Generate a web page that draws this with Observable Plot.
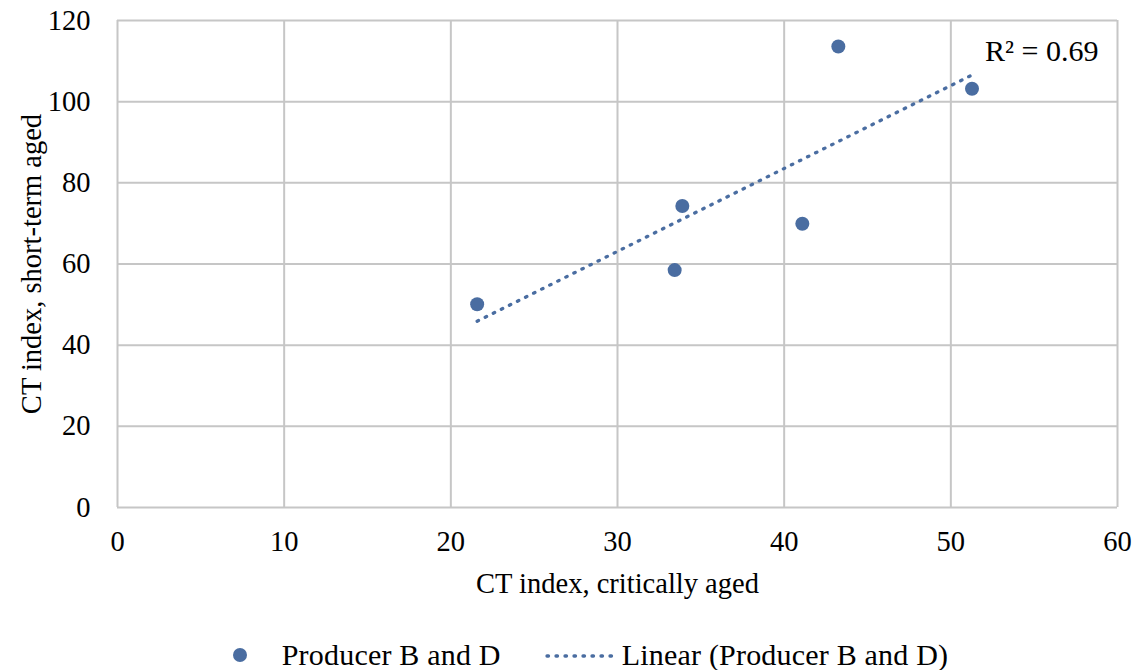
<!DOCTYPE html>
<html>
<head>
<meta charset="utf-8">
<script src="https://cdn.jsdelivr.net/npm/d3@7"></script>
<script src="https://cdn.jsdelivr.net/npm/@observablehq/plot@0.6"></script>
<style>
  html, body { margin: 0; padding: 0; background: #fff; }
  #chart { width: 1140px; }
  .legend { display: flex; justify-content: center; align-items: center; height: 60px;
            padding-top: 15px; padding-left: 41px; box-sizing: content-box; width: 1099px;
            font-family: "Liberation Serif", "Times New Roman", serif; font-size: 30px; color: #000;
            letter-spacing: 0.2px; }
  .legend .item { display: flex; align-items: center; }
  .legend svg { display: block; }
</style>
</head>
<body>
<div id="chart"></div>
<script>
// Data
const critAged  = [21.58, 33.43, 33.89, 41.09, 43.25, 51.27];   // CT index, critically aged
const shortAged = [50.1, 58.5, 74.3, 69.9, 113.6, 103.2];      // CT index, short-term aged
const xTicks = [0, 10, 20, 30, 40, 50, 60];
const yTicks = [0, 20, 40, 60, 80, 100, 120];
const seriesName = "Producer B and D";
const trendName = "Linear (Producer B and D)";
const xTitle = "CT index, critically aged";
const yTitle = "CT index, short-term aged";

const data = critAged.map((x, i) => ({x, y: shortAged[i]}));

// least squares fit (for R² label and its anchor)
const mx = d3.mean(critAged), my = d3.mean(shortAged);
let sxy = 0, sxx = 0, syy = 0;
data.forEach(d => { sxy += (d.x - mx) * (d.y - my); sxx += (d.x - mx) ** 2; syy += (d.y - my) ** 2; });
const slope = sxy / sxx, intercept = my - slope * mx;
const r2 = (sxy * sxy) / (sxx * syy);
const xEnd = d3.max(critAged);
const labelData = [{x: xEnd, y: intercept + slope * xEnd, t: `R² = ${r2.toFixed(2)}`}];

const blue = "#4a6da1";
const grid = "#c6c6c6";
const font = "Liberation Serif, Times New Roman, serif";

const plot = Plot.plot({
  width: 1140,
  height: 610,
  marginLeft: 117,
  marginRight: 23,
  marginTop: 20,
  marginBottom: 103,
  style: {fontFamily: font, fontSize: "28.5px", color: "#000", background: "#fff", overflow: "visible"},
  x: {domain: [0, 60], ticks: xTicks},
  y: {domain: [0, 120], ticks: yTicks},
  marks: [
    Plot.gridX(xTicks, {stroke: grid, strokeOpacity: 1, strokeWidth: 2}),
    Plot.gridY(yTicks, {stroke: grid, strokeOpacity: 1, strokeWidth: 2}),
    Plot.axisX(xTicks, {tickSize: 0, tickPadding: 23, label: null, fontSize: 28.5}),
    Plot.axisY(yTicks, {tickSize: 0, tickPadding: 27, label: null, fontSize: 28.5}),
    Plot.text([xTitle], {frameAnchor: "bottom", dy: 76, lineAnchor: "middle", fontSize: 28.5, letterSpacing: "0.3px"}),
    Plot.text([yTitle], {frameAnchor: "left", dx: -86, rotate: -90, textAnchor: "middle", lineAnchor: "middle", fontSize: 28.5, letterSpacing: "0.3px"}),
    Plot.linearRegressionY(data, {x: "x", y: "y", ci: 0, stroke: blue, strokeWidth: 3.3,
      strokeDasharray: "1.5 7.5", strokeLinecap: "round"}),
    Plot.dot(data, {x: "x", y: "y", r: 7, fill: blue, stroke: "none"}),
    Plot.text(labelData, {x: "x", y: "y", text: "t", textAnchor: "start", dx: 13, dy: -24, fontSize: 30, letterSpacing: "0.5px", fill: "#000"})
  ]
});

const chart = document.getElementById("chart");
chart.appendChild(plot);

const legend = document.createElement("div");
legend.className = "legend";
legend.innerHTML = `
  <div class="item">
    <svg width="14" height="20"><circle cx="7" cy="10" r="7" fill="${blue}"/></svg>
    <span style="margin-left:35px">${seriesName}</span>
  </div>
  <div class="item" style="margin-left:43px">
    <svg width="78" height="20"><line x1="3" y1="11" x2="75" y2="11" stroke="${blue}" stroke-width="3.3" stroke-dasharray="1.5 7.5" stroke-linecap="round"/></svg>
    <span>${trendName}</span>
  </div>`;
chart.appendChild(legend);
</script>
</body>
</html>
